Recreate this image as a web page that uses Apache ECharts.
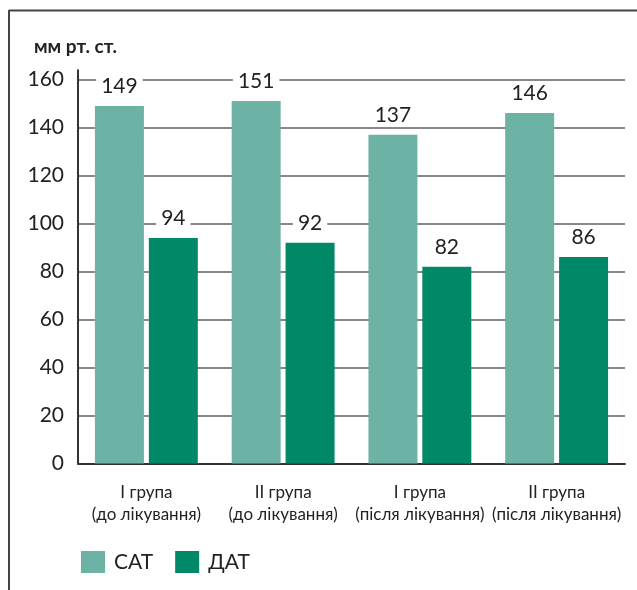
<!DOCTYPE html>
<html><head><meta charset="utf-8">
<script src="https://cdn.jsdelivr.net/npm/echarts@6/dist/echarts.min.js"></script>
<style>html,body{margin:0;padding:0;background:#fff}#c{width:637px;height:590px}</style>
</head><body><div id="c"></div>
<script>
const categories = ['I група\n(до лікування)', 'II група\n(до лікування)', 'I група\n(після лікування)', 'II група\n(після лікування)'];
const seriesNames = ['САТ', 'ДАТ'];
const satValues = [149, 151, 137, 146];
const datValues = [94, 92, 82, 86];
const yTicks = [0, 20, 40, 60, 80, 100, 120, 140, 160];
const unitLabel = 'мм рт. ст.';

const FONT = 'Lato';
const chart = echarts.init(document.getElementById('c'), null, {renderer: 'canvas'});
const labelStyle = {
  show: true, position: 'top', distance: 9,
  fontFamily: FONT, fontSize: 21, color: '#222',
  backgroundColor: '#fff', padding: [0, 5]
};
chart.setOption({
  animation: false,
  backgroundColor: '#fff',
  title: {text: unitLabel, left: 29, top: 32,
    textStyle: {fontFamily: FONT, fontSize: 19, fontWeight: 'bold', color: '#222'}},
  legend: {
    left: 76, top: 546, itemWidth: 24, itemHeight: 22, itemGap: 22,
    icon: 'rect',
    textStyle: {fontFamily: FONT, fontSize: 21, color: '#222', padding: [0, 0, 0, 4]},
    data: seriesNames
  },
  grid: {left: 78, right: 12, top: 79.5, bottom: 126.5, containLabel: false},
  xAxis: {
    type: 'category', data: categories,
    axisLine: {lineStyle: {color: '#333', width: 2}},
    axisTick: {show: false},
    axisLabel: {fontFamily: FONT, fontSize: 17, color: '#222', lineHeight: 22, margin: 18, interval: 0}
  },
  yAxis: {
    type: 'value', min: yTicks[0], max: yTicks[yTicks.length - 1], interval: 20,
    axisLine: {show: true, lineStyle: {color: '#333', width: 2}},
    axisTick: {show: false},
    axisLabel: {fontFamily: FONT, fontSize: 21, color: '#222', margin: 14},
    splitLine: {lineStyle: {color: '#888', width: 2}}
  },
  series: [
    {name: seriesNames[0], type: 'bar', data: satValues, barWidth: 49, barGap: '10%',
     itemStyle: {color: '#6db3a5'}, label: labelStyle, z: 3},
    {name: seriesNames[1], type: 'bar', data: datValues, barWidth: 49, barGap: '10%',
     itemStyle: {color: '#008867'}, label: labelStyle, z: 3}
  ]
});
const topPt = chart.convertToPixel({gridIndex: 0}, [0, yTicks[yTicks.length - 1]]);
const x0 = chart.getModel().getComponent('grid', 0).coordinateSystem.getRect().x;
chart.setOption({
  graphic: [
    {type: 'line', shape: {x1: x0, y1: topPt[1] - 10, x2: x0, y2: topPt[1]}, style: {stroke: '#333', lineWidth: 2}, z: 10},
    {type: 'line', shape: {x1: 9, y1: 10.5, x2: 637, y2: 10.5}, style: {stroke: '#444', lineWidth: 2}},
    {type: 'line', shape: {x1: 9, y1: 10, x2: 9, y2: 590}, style: {stroke: '#444', lineWidth: 2}}
  ]
});
</script></body></html>
